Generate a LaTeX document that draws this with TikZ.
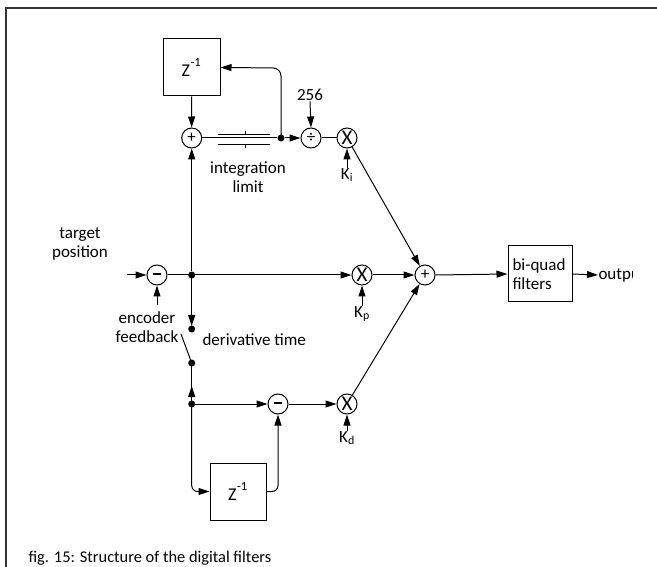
\documentclass[tikz,border=0pt]{standalone}
\usepackage{fontspec}
\setmainfont{Carlito}
\usetikzlibrary{arrows.meta}
\begin{document}
\begin{tikzpicture}[x=1pt,y=-1pt,
  line width=1pt,
  >={Triangle[length=11pt,width=7pt]},
  lbl/.style={font=\fontsize{17}{19}\selectfont, inner sep=0pt, align=center},
  op/.style={circle, draw, minimum size=20pt, inner sep=0pt, font=\fontsize{17}{17}\selectfont},
  opx/.style={op, font=\fontsize{21}{21}\selectfont},
  blk/.style={draw, minimum width=57pt, minimum height=57pt, inner sep=0pt, font=\fontsize{18}{18}\selectfont},
  dotn/.style={circle, fill, inner sep=0pt, minimum size=7pt}]
\useasboundingbox (0,0) rectangle (657,567);
% frame
\draw[line width=1.5pt, black!80] (6,567) -- (6,8) -- (657,8);

% nodes
\node[blk] (zt) at (191.5,67.5) {Z\kern0.5pt\raisebox{3pt}{\textsuperscript{-1}}};
\node[op] (plusT) at (191.7,138) {+};
\node[dotn] (dotT) at (281,138) {};
\node[op] (div) at (311,138) {\raisebox{1pt}{÷}};
\node[opx] (xI) at (347,138) {X};
\node[lbl] (t256) at (310,95) {256};
\node[lbl, anchor=north] (Ki) at (347,168) {K\textsubscript{i}};
\node[lbl] (intl) at (248,177) {integration\\limit};

\node[lbl] (tp) at (80,244) {target\\position};
\coordinate (in) at (127,275);
\node[op] (m1) at (157,275) {\rule[0.3ex]{8pt}{2.4pt}};
\node[dotn] (jA) at (191.7,275) {};
\node[opx] (xP) at (362,275) {X};
\node[op] (sum) at (425,275) {+};
\node[draw, minimum width=64pt, minimum height=56pt, inner sep=0pt] (bq) at (540,274) {};
\node[lbl, align=left, anchor=west] (bqt) at (512,274) {bi-quad\\filters};
\begin{scope}
\clip (0,0) rectangle (632,567);
\node[lbl, anchor=west] (out) at (598,275) {output};
\end{scope}

\node[lbl, anchor=north] (Kp) at (362,306) {K\textsubscript{p}};
\node[lbl] (enc) at (147,327) {encoder\\feedback};
\coordinate (encA) at (157,305);
\node[dotn] (dU) at (191.7,329) {};
\node[dotn] (dL) at (191.7,363) {};
\coordinate (sw) at (181,334);
\node[lbl, anchor=west] (dt) at (202,340) {derivative time};
\coordinate (mk) at (191.7,386);
\node[dotn] (jB) at (191.7,404) {};
\node[op] (m2) at (278,404) {\rule[0.3ex]{8pt}{2.4pt}};
\node[opx] (xD) at (347,404) {X};
\node[lbl, anchor=north] (Kd) at (347,431) {K\textsubscript{d}};
\node[blk, minimum width=56pt] (zb) at (238,491.5) {Z\kern0.5pt\raisebox{3pt}{\textsuperscript{-1}}};

\node[lbl, anchor=base west, font=\fontsize{16.4}{18}\selectfont] (cap) at (28,562) {fig. 15: Structure of the digital filters};

% connectors
\draw[->] (zt.south) -- (plusT.north);
\draw[->] (jA) -- (plusT.south);
\draw (plusT.east) -- (dotT);
\draw (218,135) -- (270,135) (218,144.3) -- (270,144.3);
\draw (245,131) -- (245,135) (245,144.3) -- (245,148);
\draw[->, rounded corners=8pt] (dotT.center) -- (281,68) -- (zt.east);
\draw[->] (dotT) -- (div.west);
\draw[->] (t256.south) -- (div.north);
\draw (div.east) -- (xI.west);
\draw[->] (Ki.north) -- (xI.south);
\draw[->] (xI) -- (sum);

\draw[->] (in) -- (m1.west);
\draw[->] (encA) -- (m1.south);
\draw (m1.east) -- (jA.center);
\draw[->] (jA.center) -- (xP.west);
\draw[->] (xP.east) -- (sum.west);
\draw[->] (Kp.north) -- (xP.south);
\draw[->] (jA.center) -- ([yshift=-1pt]dU.north);
\draw (sw) -- (dL.center);
\draw (dL.center) -- (jB.center);
\draw[->] (jB.center) -- (mk);
\draw[->] (jB.center) -- (m2.west);
\draw[->] (m2.east) -- (xD.west);
\draw[->] (Kd.north) -- (xD.south);
\draw[->] (xD) -- (sum);
\draw[->, rounded corners=6pt] (jB.center) -- (191.7,491.5) -- (zb.west);
\draw[->, rounded corners=6pt] (zb.east) -- (278,491.5) -- (m2.south);
\draw[->] (sum.east) -- (bq.west);
\draw[->] (bq.east) -- (out.west);
\end{tikzpicture}
\end{document}
